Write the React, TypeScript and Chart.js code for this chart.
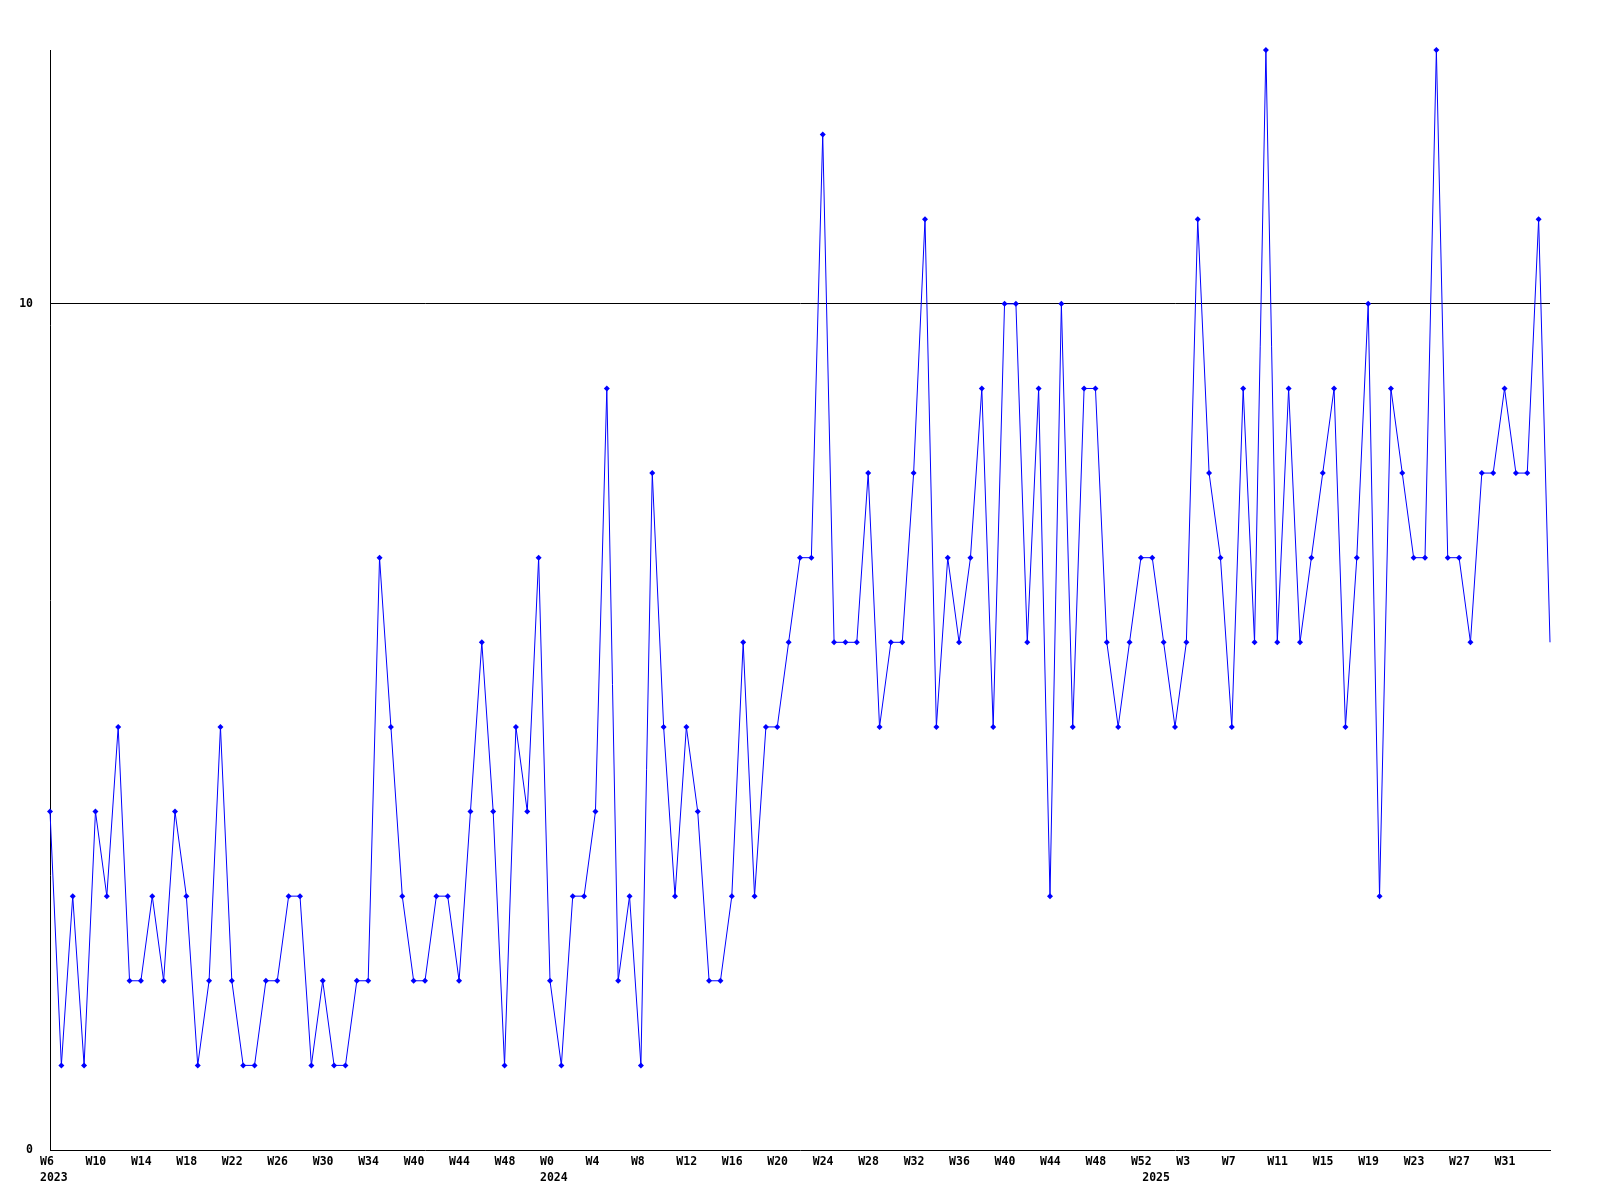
import React, { useEffect, useRef } from "react";
import { Chart, registerables } from "chart.js";

Chart.register(...registerables);

// Weekly values (one per category, left to right)
const values: number[] = [
  4, 1, 3, 1, 4, 3, 5, 2, 2, 3, 2, 4, 3, 1, 2, 5, 2, 1, 1, 2,
  2, 3, 3, 1, 2, 1, 1, 2, 2, 7, 5, 3, 2, 2, 3, 3, 2, 4, 6, 4,
  1, 5, 4, 7, 2, 1, 3, 3, 4, 9, 2, 3, 1, 8, 5, 3, 5, 4, 2, 2,
  3, 6, 3, 5, 5, 6, 7, 7, 12, 6, 6, 6, 8, 5, 6, 6, 8, 11, 5, 7,
  6, 7, 9, 5, 10, 10, 6, 9, 3, 10, 5, 9, 9, 6, 5, 6, 7, 7, 6, 5,
  6, 11, 8, 7, 5, 9, 6, 13, 6, 9, 6, 7, 8, 9, 5, 7, 10, 3, 9, 8,
  7, 7, 13, 7, 7, 6, 8, 8, 9, 8, 8, 11, 6,
];

// Week tick labels, shown on every 4th category
const weekTicks: string[] = [
  "W6", "W10", "W14", "W18", "W22", "W26", "W30", "W34", "W40", "W44", "W48",
  "W0", "W4", "W8", "W12", "W16", "W20", "W24", "W28", "W32", "W36", "W40",
  "W44", "W48", "W52", "W3", "W7", "W11", "W15", "W19", "W23", "W27", "W31",
];

// Year labels and the category index where each year begins
const yearLabels: string[] = ["2023", "2024", "2025"];
const yearStartIndex: number[] = [0, 44, 97];

// Y-axis tick values
const yTickValues: number[] = [0, 10];

const categories: (string | string[])[] = values.map((_, i) => {
  const week = i % 4 === 0 && weekTicks[i / 4] ? weekTicks[i / 4] : "";
  const yi = yearStartIndex.indexOf(i);
  const year = yi >= 0 ? yearLabels[yi] : "";
  if (year) return [week, year];
  return week;
});

const tickFont = {
  family: "'DejaVu Sans Mono', monospace",
  weight: "bold" as const,
  size: 11.5,
  lineHeight: "16px",
};

export default function App() {
  const canvasRef = useRef<HTMLCanvasElement | null>(null);

  useEffect(() => {
    const canvas = canvasRef.current;
    if (!canvas) return;
    const chart = new Chart(canvas, {
      type: "line",
      data: {
        labels: categories,
        datasets: [
          {
            data: values,
            borderColor: "#0000ff",
            borderWidth: 1,
            tension: 0,
            fill: false,
            pointStyle: "rectRot",
            pointRadius: values.map((_, i) => (i === values.length - 1 ? 0 : 3)),
            pointBackgroundColor: "#0000ff",
            pointBorderColor: "#0000ff",
            pointBorderWidth: 0,
            clip: false as any,
          },
        ],
      },
      options: {
        responsive: false,
        animation: false,
        devicePixelRatio: 1,
        layout: { padding: { top: 50, right: 50, left: 0, bottom: 0 } },
        plugins: {
          legend: { display: false },
          tooltip: { enabled: false },
        },
        scales: {
          x: {
            type: "category",
            offset: false,
            grid: { display: true, drawOnChartArea: false, drawTicks: false },
            border: { display: true, color: "#000000", width: 1 },
            ticks: {
              autoSkip: false,
              maxRotation: 0,
              minRotation: 0,
              align: "start",
              labelOffset: -10,
              padding: 4.5,
              color: "#000000",
              font: tickFont,
            },
            afterFit: (scale: any) => {
              scale.height = 50;
            },
          },
          y: {
            min: 0,
            max: 13,
            grid: {
              drawTicks: false,
              color: (ctx: any) =>
                ctx.tick && ctx.tick.value === 10 ? "#000000" : "rgba(0,0,0,0)",
              lineWidth: 1,
            },
            border: { display: true, color: "#000000", width: 1 },
            ticks: {
              padding: 17,
              color: "#000000",
              font: tickFont,
            },
            afterBuildTicks: (axis: any) => {
              axis.ticks = yTickValues.map((v) => ({ value: v }));
            },
            afterFit: (scale: any) => {
              scale.width = 50;
            },
          },
        },
      },
    });
    return () => chart.destroy();
  }, []);

  return (
    <div
      style={{
        position: "absolute",
        left: 0,
        top: 0,
        width: 1600,
        height: 1200,
        background: "#ffffff",
      }}
    >
      <canvas ref={canvasRef} width={1600} height={1200} />
    </div>
  );
}
